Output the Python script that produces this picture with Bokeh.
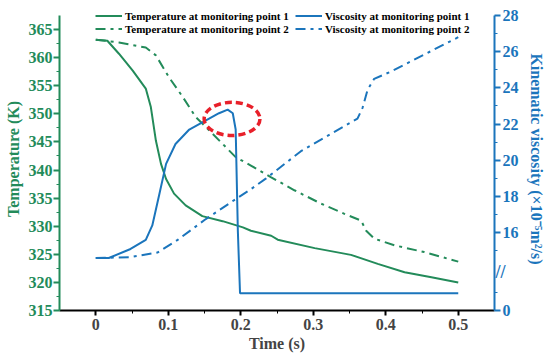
from bokeh.plotting import figure
from bokeh.models import (Range1d, LinearAxis, FixedTicker, CustomJSTickFormatter,
                          Legend, LegendItem)
from bokeh.core.properties import value
from bokeh.embed import file_html
from bokeh.resources import INLINE

# ---------------- data ----------------
time_t1 = [0.0, 0.016, 0.032, 0.051, 0.069, 0.076, 0.083, 0.090, 0.097, 0.108, 0.124,
           0.147, 0.175, 0.203, 0.214, 0.242, 0.251, 0.302, 0.352, 0.389, 0.426, 0.463, 0.5]
temp_1 = [363.2, 363.0, 360.7, 357.7, 354.5, 351.2, 345.2, 341.1, 338.4, 335.8, 333.7,
          331.8, 330.9, 329.8, 329.2, 328.3, 327.6, 326.1, 324.9, 323.3, 321.8, 320.9, 320.0]

time_t2 = [0.0, 0.032, 0.069, 0.083, 0.101, 0.120, 0.138, 0.157, 0.193, 0.214, 0.242,
           0.274, 0.311, 0.343, 0.366, 0.373, 0.384, 0.412, 0.453, 0.5]
temp_2 = [363.2, 362.7, 361.8, 360.4, 356.5, 353.0, 349.4, 347.0, 342.3, 340.8, 338.7,
          336.4, 334.0, 332.2, 331.0, 329.2, 327.8, 326.6, 325.4, 323.7]

time_v1 = [0.0, 0.018, 0.048, 0.069, 0.078, 0.087, 0.097, 0.110, 0.129, 0.152, 0.170,
           0.182, 0.189, 0.193, 0.196, 0.199, 0.5]
visc_1 = [14.6, 14.6, 15.1, 15.6, 16.4, 18.0, 19.8, 20.9, 21.7, 22.2, 22.6,
          22.8, 22.6, 21.7, 16.1, 0.96, 0.96]

time_v2 = [0.0, 0.048, 0.085, 0.113, 0.150, 0.191, 0.214, 0.235, 0.283, 0.361, 0.368,
           0.375, 0.384, 0.407, 0.5]
visc_2 = [14.6, 14.65, 14.9, 15.6, 16.7, 17.8, 18.4, 19.0, 20.5, 22.3, 22.9,
          23.9, 24.5, 24.9, 26.8]

x_ticks = [0.0, 0.1, 0.2, 0.3, 0.4, 0.5]
temp_ticks = [315, 320, 325, 330, 335, 340, 345, 350, 355, 360, 365]
visc_ticks = [0, 16, 18, 20, 22, 24, 26, 28]
visc_minor = [1, 15, 17, 19, 21, 23, 25, 27]

# axis extents
TEMP_MIN, TEMP_MAX = 315, 367.5
VISC_MAX = 28

# broken right axis: lower segment 0..2.1, upper segment 13.8..28
BREAK_LOW = 2.1
BREAK_GAP = 11.7

# highlight ellipse (time, temperature)
hl_center = [0.188, 349.1]
hl_size = [0.077, 5.9]

GREEN = "#238B5A"
BLUE = "#1B75BC"
RED = "#E8202A"
FONT = "Liberation Serif"


def to_display(v):
    return [x if x <= BREAK_LOW + 1 else x - BREAK_GAP for x in v]


# frame extends a little above the axis tops so the legend is not clipped
HEAD = 8 / 295  # fraction of the axis length
temp_span = TEMP_MAX - TEMP_MIN
visc_span = VISC_MAX - BREAK_GAP

p = figure(width=550, height=359, output_backend="svg", toolbar_location=None,
           x_range=Range1d(-0.05, 0.55),
           y_range=Range1d(TEMP_MIN, TEMP_MAX + temp_span * HEAD),
           min_border_left=59, min_border_right=56, min_border_top=7, min_border_bottom=49)
p.outline_line_color = None
p.grid.visible = False
p.background_fill_color = "white"
p.border_fill_color = "white"

p.extra_y_ranges = {"visc": Range1d(0, visc_span * (1 + HEAD))}

# x axis
xa = p.xaxis[0]
xa.ticker = FixedTicker(ticks=x_ticks, minor_ticks=[0.05, 0.15, 0.25, 0.35, 0.45])
xa.axis_label = "Time (s)"
xa.axis_line_width = 2
xa.major_tick_line_width = 2
xa.major_tick_out = 5
xa.major_tick_in = 0
xa.minor_tick_out = 3
xa.minor_tick_in = 0
xa.major_label_standoff = 3
xa.axis_label_standoff = 2
xa.major_label_text_font = FONT
xa.major_label_text_font_style = "bold"
xa.major_label_text_font_size = "16px"
xa.axis_label_text_font = FONT
xa.axis_label_text_font_style = "bold"
xa.axis_label_text_font_size = "16px"

# left axis
ya = p.yaxis[0]
ya.bounds = (TEMP_MIN, TEMP_MAX)
ya.ticker = FixedTicker(ticks=temp_ticks,
                        minor_ticks=[t + 2.5 for t in temp_ticks[:-1]])
ya.axis_label = "Temperature (K)"
ya.axis_line_color = GREEN
ya.axis_line_width = 2
ya.major_tick_line_color = GREEN
ya.minor_tick_line_color = GREEN
ya.major_tick_line_width = 2
ya.major_tick_out = 6
ya.major_tick_in = 0
ya.minor_tick_out = 3
ya.minor_tick_in = 0
ya.major_label_standoff = 1
ya.axis_label_standoff = 4
ya.major_label_text_color = GREEN
ya.axis_label_text_color = GREEN
ya.major_label_text_font = FONT
ya.major_label_text_font_style = "bold"
ya.major_label_text_font_size = "16px"
ya.axis_label_text_font = FONT
ya.axis_label_text_font_style = "bold"
ya.axis_label_text_font_size = "16px"

# right axis (broken)
ra = LinearAxis(y_range_name="visc", bounds=(0, visc_span),
                ticker=FixedTicker(ticks=to_display(visc_ticks), minor_ticks=to_display(visc_minor)),
                formatter=CustomJSTickFormatter(args=dict(low=BREAK_LOW, gap=BREAK_GAP),
                                                code="return (tick <= low + 1 ? tick : tick + gap).toFixed(0);"),
                axis_label="Kinematic viscosity (\u00d710\u207b\u2075m\u00b2/s)")
ra.axis_line_color = BLUE
ra.axis_line_width = 2
ra.major_tick_line_color = BLUE
ra.minor_tick_line_color = BLUE
ra.major_tick_line_width = 2
ra.major_tick_out = 6
ra.major_tick_in = 0
ra.minor_tick_out = 3
ra.minor_tick_in = 0
ra.major_label_standoff = 2
ra.axis_label_standoff = 6
ra.major_label_text_color = BLUE
ra.axis_label_text_color = BLUE
ra.major_label_text_font = FONT
ra.major_label_text_font_style = "bold"
ra.major_label_text_font_size = "16px"
ra.axis_label_text_font = FONT
ra.axis_label_text_font_style = "bold"
ra.axis_label_text_font_size = "16px"
p.add_layout(ra, "right")

DASHDOT = "10 5 3 5"
r_t1 = p.line(time_t1, temp_1, line_color=GREEN, line_width=2)
r_t2 = p.line(time_t2, temp_2, line_color=GREEN, line_width=2, line_dash=DASHDOT)
r_v1 = p.line(time_v1, to_display(visc_1), line_color=BLUE, line_width=2, y_range_name="visc")
r_v2 = p.line(time_v2, to_display(visc_2), line_color=BLUE, line_width=2, line_dash=DASHDOT,
              y_range_name="visc")

p.ellipse(x=[hl_center[0]], y=[hl_center[1]], width=hl_size[0], height=hl_size[1],
          fill_color=None, line_color=RED, line_width=3.5, line_dash="7 4")

# break mark on the right axis (drawn at overlay level so it is not clipped)
p.text(x=[0.55], y=[BREAK_LOW], text=["//"], y_range_name="visc", x_offset=6,
       text_color=BLUE, text_font=value(FONT), text_font_style="bold",
       text_font_size="18px", text_align="center", text_baseline="middle",
       level="overlay")


def make_legend(items, loc):
    return Legend(items=items, location=loc, orientation="vertical",
                  glyph_width=27, glyph_height=13, label_height=13, label_standoff=3,
                  spacing=0, padding=0, margin=0,
                  border_line_alpha=0, background_fill_alpha=0,
                  label_text_font=FONT, label_text_font_style="bold",
                  label_text_font_size="11px", label_text_color="black")


p.add_layout(make_legend([LegendItem(label="Temperature at monitoring point 1", renderers=[r_t1]),
                          LegendItem(label="Temperature at monitoring point 2", renderers=[r_t2])],
                         (36, 275)))
p.add_layout(make_legend([LegendItem(label="Viscosity at monitoring point 1", renderers=[r_v1]),
                          LegendItem(label="Viscosity at monitoring point 2", renderers=[r_v2])],
                         (236, 275)))

open("out.html", "w").write(file_html(p, INLINE))
